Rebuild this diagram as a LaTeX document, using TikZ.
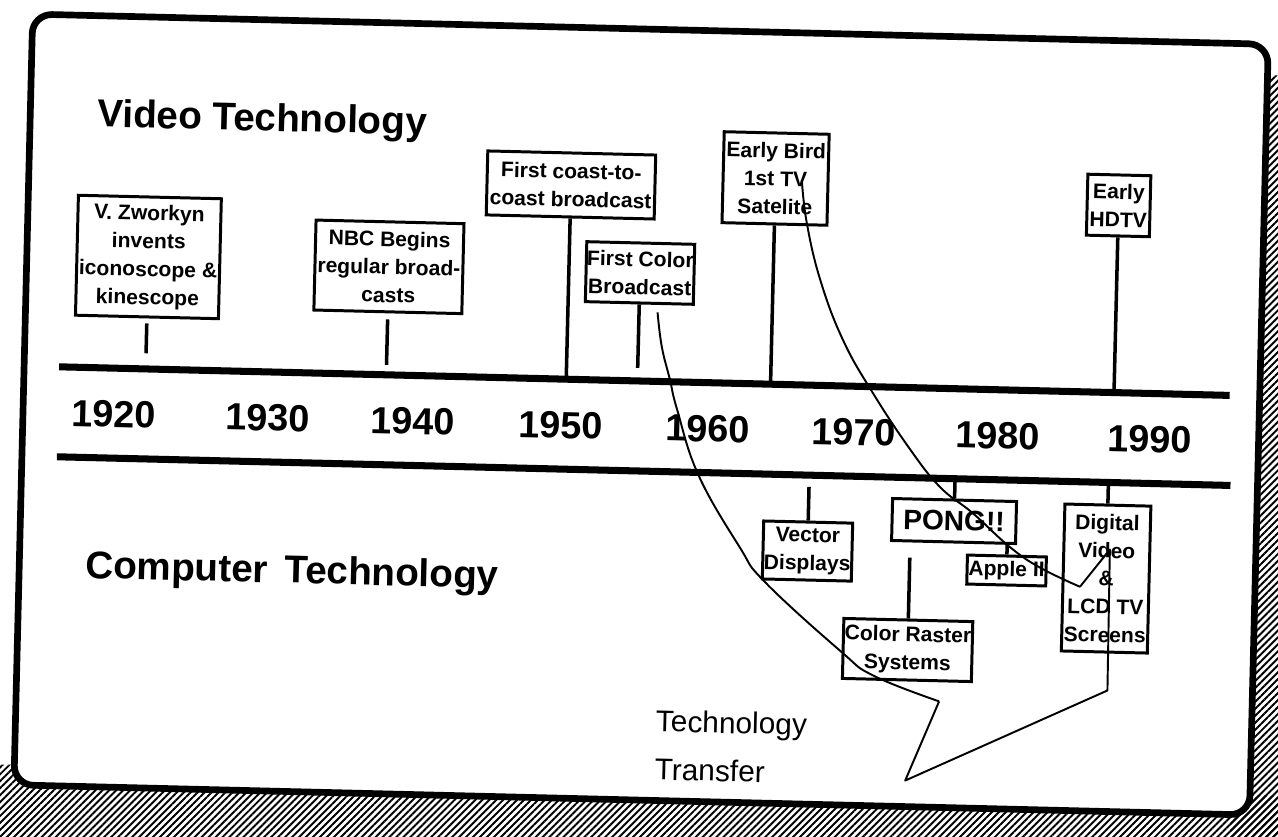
\documentclass[tikz,border=0pt]{standalone}
\usepackage{fontspec}
\setmainfont{Liberation Sans}
\usepackage{tikz}
\usetikzlibrary{calc, patterns.meta}
\definecolor{scanink}{RGB}{0, 0, 0}
\tikzset{
  slideframe/.style={line width=3.8pt, rounded corners=11pt, draw=scanink, fill=white},
  timeline/.style={line width=4pt, scanink},
  event/.style={draw=scanink, line width=1.7pt, align=center, inner sep=0pt, font=\bfseries\fontsize{12}{16}\selectfont},
  stem/.style={line width=2pt, scanink},
  transfer/.style={line width=1.1pt, scanink, line join=round},
  year/.style={font=\bfseries\fontsize{21.5}{24}\selectfont, inner sep=0pt},
  heading/.style={font=\bfseries\fontsize{22}{26}\selectfont, inner sep=0pt, anchor=base west},
  hatch/.style={pattern={Lines[angle=45, distance=2.8pt, line width=1.1pt]}, pattern color=scanink}
}
\begin{document}
\begin{tikzpicture}[x=0.02cm, y=-0.02cm]
    \useasboundingbox (0,0) rectangle (1278,837);
    \clip (0,0) rectangle (1278,837);
    \begin{scope}[rotate around={-1.4:(639,418)}, transform shape]
    % shadow and frame
    \fill[hatch] (-40,780) rectangle (1320,880);
    \fill[hatch] (1240,60) rectangle (1320,880);
    \draw[slideframe] (23,29) rectangle (1259,800);

    \node (video) [heading] at (90,140) {Video Technology};
    \node (computer) [heading] at (89,591.5) {Computer\hspace{0.15em} Technology};

    % the two rails
    \coordinate (upL) at (58,381);
    \coordinate (upR) at (1229,381);
    \coordinate (loL) at (58,471);
    \coordinate (loR) at (1232,471);
    \draw[timeline] (upL) -- (upR);
    \draw[timeline] (loL) -- (loR);
    \foreach \yr/\xx in {1920/114, 1930/268, 1940/413, 1950/561, 1960/708, 1970/854, 1980/998, 1990/1150}
        \node (y\yr) [year] at (\xx,427) {\yr};

    % video events
    \node (zworkyn) [event, minimum width=2.86cm, minimum height=2.40cm] at (144.6,269) {V. Zworkyn\\invents\\iconoscope \&\\kinescope};
    \node (nbc) [event, minimum width=2.96cm, minimum height=1.80cm] at (385.3,273) {NBC Begins\\regular broad-\\casts};
    \node (coast) [event, minimum width=3.36cm, minimum height=1.28cm] at (565.3,186.7) {First coast-to-\\coast broadcast};
    \node (color) [event, minimum width=2.16cm, minimum height=1.20cm] at (636.5,273) {First Color\\Broadcast};
    \node (bird) [event, minimum width=2.10cm, minimum height=1.82cm] at (769.7,175.2) {Early Bird\\1st TV\\Satelite};
    \node (hdtv) [event, minimum width=1.26cm, minimum height=1.22cm] at (1113.3,193.8) {Early\\HDTV};

    \coordinate (zworkynFoot) at ($(upL)!(zworkyn.south)!(upR)$);
    \coordinate (nbcFoot) at ($(upL)!(nbc.south)!(upR)$);
    \coordinate (colorFoot) at ($(upL)!(color.south)!(upR)$);
    \draw[stem] ($(zworkyn.south)!0.1!(zworkynFoot)$) -- ($(zworkyn.south)!0.69!(zworkynFoot)$);
    \draw[stem] ($(nbc.south)!0.1!(nbcFoot)$) -- ($(nbc.south)!0.84!(nbcFoot)$);
    \draw[stem] (color.south) -- ($(color.south)!0.83!(colorFoot)$);
    \draw[stem] (coast.south) -- ($(upL)!(coast.south)!(upR)$);
    \draw[stem] (bird.south) -- ($(upL)!(bird.south)!(upR)$);
    \draw[stem] (hdtv.south) -- ($(upL)!(hdtv.south)!(upR)$);

    % computer events
    \node (vector) [event, minimum width=1.78cm, minimum height=1.16cm] at (810.7,546.9) {Vector\\Displays};
    \node (pong) [event, minimum width=2.48cm, minimum height=0.84cm, font=\bfseries\fontsize{16}{18}\selectfont] at (956.5,513.3) {PONG!!};
    \node (raster) [event, minimum width=2.58cm, minimum height=1.20cm] at (913.2,643.4) {Color Raster\\Systems};
    \node (apple) [event, minimum width=1.58cm, minimum height=0.58cm] at (1010.2,561.5) {Apple II};
    \node (digital) [event, minimum width=1.72cm, minimum height=2.94cm] at (1109.9,567.1) {Digital\\Video\\\&\\LCD TV\\Screens};

    \coordinate (vectorFoot) at ($(loL)!(vector.north)!(loR)$);
    \coordinate (rasterFoot) at ($(pong.south west)!(raster.north)!(pong.south east)$);
    \draw[stem] (vector.north) -- ($(vector.north)!0.74!(vectorFoot)$);
    \draw[stem] (pong.north) -- ($(loL)!(pong.north)!(loR)$);
    \draw[stem] (raster.north) -- ($(raster.north)!0.8!(rasterFoot)$);
    \draw[stem] (apple.north) -- ($(pong.south west)!(apple.north)!(pong.south east)$);
    \draw[stem] (digital.north) -- ($(loL)!(digital.north)!(loR)$);

    % technology transfer balloon
    \coordinate (birdStart) at (796,176);
    \coordinate (hookLow) at (1084,576);
    \coordinate (hookTop) at (1113,538);
    \coordinate (tailTop) at (1114,679);
    \coordinate (tip) at (914,774);
    \coordinate (notch) at (946,694);
    \coordinate (colorStart) at (655,312);
    \draw[transfer] plot[smooth, tension=0.7] coordinates {(birdStart) (802,219) (817,276) (841,335) (872,387) (911,443) (942,480) (975,505) (1013,538) (1044,558) (hookLow)};
    \draw[transfer] (hookLow) -- (hookTop) -- (tailTop) -- (tip) -- (notch);
    \draw[transfer] plot[smooth, tension=0.7] coordinates {(notch) (880,670) (846,646) (769,579) (743,545) (700,474) (677,409) (669,379) (660,346) (colorStart)};
    \node (ttext) [anchor=north west, align=left, inner sep=0pt, font=\fontsize{17}{27.5}\selectfont] at (663,709) {Technology\\Transfer};
    \end{scope}
\end{tikzpicture}
\end{document}
